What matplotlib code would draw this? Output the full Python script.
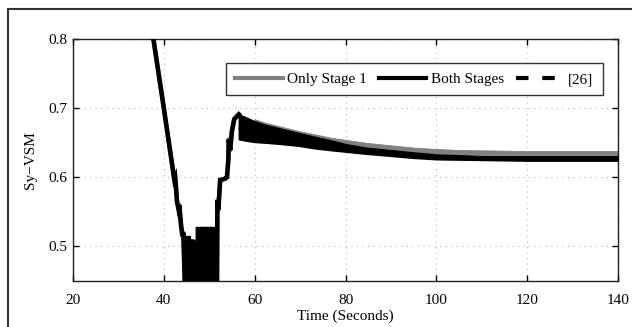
import numpy as np
import matplotlib
matplotlib.use("Agg")
import matplotlib.pyplot as plt
from matplotlib.lines import Line2D
from matplotlib.patches import Rectangle

plt.rcParams['font.family'] = ['Liberation Serif', 'DejaVu Serif']

# --- transient of "Both Stages" ---
both_t = [37.7, 40.0, 41.9, 42.3, 42.5, 42.9, 43.2, 43.4, 43.8, 44.1, 44.3, 44.6, 44.7,
          45.0, 45.0, 45.5, 45.5, 45.8, 45.8, 46.3, 46.3, 46.6, 46.6, 47.1, 47.1,
          47.5, 47.5, 47.8, 47.8, 48.3, 48.3, 48.6, 48.6, 49.0, 49.0, 49.3, 49.3,
          49.8, 49.8, 50.1, 50.1, 50.6, 50.6, 50.9, 50.9, 51.7, 51.8, 52.0, 52.4,
          53.5, 53.9, 54.2, 54.3, 54.6, 55.0, 55.5, 56.5]
both_y = [0.800, 0.700, 0.615, 0.597, 0.600, 0.565, 0.555, 0.560, 0.530, 0.515, 0.520, 0.450, 0.440,
          0.440, 0.512, 0.512, 0.440, 0.440, 0.507, 0.507, 0.440, 0.440, 0.505, 0.505, 0.440,
          0.440, 0.525, 0.525, 0.440, 0.440, 0.525, 0.525, 0.440, 0.440, 0.525, 0.525, 0.440,
          0.440, 0.525, 0.525, 0.440, 0.440, 0.525, 0.525, 0.440, 0.440, 0.567, 0.553, 0.596,
          0.598, 0.600, 0.625, 0.655, 0.639, 0.667, 0.684, 0.691]

# oscillating band after the peak (upper / lower envelope)
band_t = [56.5, 58, 60, 62.3, 66, 69.7, 73, 77, 80, 84.4, 88.8, 95, 100, 110, 120, 130, 140]
both_hi = [0.691, 0.687, 0.681, 0.676, 0.670, 0.664, 0.659, 0.653, 0.648, 0.643, 0.640, 0.636,
           0.633, 0.631, 0.631, 0.631, 0.631]
both_lo = [0.655, 0.653, 0.651, 0.650, 0.648, 0.6455, 0.642, 0.639, 0.637, 0.634, 0.6316, 0.628,
           0.626, 0.625, 0.624, 0.624, 0.624]

stage1_t = [60, 62.3, 69.7, 77, 84.4, 88.8, 95, 100, 105, 110, 120, 130, 140]
stage1_hi = [0.684, 0.679, 0.667, 0.657, 0.650, 0.647, 0.643, 0.641, 0.6395, 0.639, 0.638, 0.638, 0.638]
stage1_lo = [0.654, 0.653, 0.649, 0.645, 0.640, 0.638, 0.636, 0.634, 0.6335, 0.633, 0.633, 0.633, 0.633]

ref26_t = [56.5, 70, 80, 90, 100, 120, 140]
ref26_y = [0.672, 0.655, 0.643, 0.636, 0.629, 0.627, 0.627]

fig = plt.figure(figsize=(6.32, 3.27), dpi=100)
ax = fig.add_axes([73 / 632, 1 - 281 / 327, 545 / 632, 242 / 327])

# Only Stage 1 (gray) - hidden under black in the transient
ax.plot(both_t, both_y, color='#808080', lw=3, zorder=2)
ax.fill_between(stage1_t, stage1_lo, stage1_hi, color='#808080', lw=0.6, zorder=2)

# [26] dashed, lies under the black curve
ax.plot(ref26_t, ref26_y, color='black', lw=2.5, ls=(0, (3, 3.3)), zorder=3)

# Both stages (black)
ax.plot(both_t, both_y, color='black', lw=3.3, zorder=4, solid_joinstyle='miter')
ax.fill_between(band_t, both_lo, both_hi, color='black', lw=1.0, zorder=4)

ax.set_xlim(20, 140)
ax.set_ylim(0.45, 0.8)
ax.set_xticks([20, 40, 60, 80, 100, 120, 140])
ax.set_yticks([0.5, 0.6, 0.7, 0.8])
ax.set_yticklabels(['0.5', '0.6', '0.7', '0.8'])
ax.grid(True, color='#b8b8b8', ls=(0, (1, 4)), lw=0.8)
ax.tick_params(direction='in', length=4, width=1, top=True, right=True,
               labelsize=11, colors='black')
ax.tick_params(axis='x', pad=9)
ax.tick_params(axis='y', pad=4)
for s in ax.spines.values():
    s.set_linewidth(1.0)
    s.set_color('#222222')

ax.set_xlabel('Time (Seconds)', fontsize=11, labelpad=2)
ax.set_ylabel('Sy\u2212VSM', fontsize=11, labelpad=8)

handles = [Line2D([], [], color='#808080', lw=3),
           Line2D([], [], color='black', lw=3),
           Line2D([], [], color='black', lw=3, ls=(0, (3, 3.3)))]
leg = ax.legend(handles, ['Only Stage 1', 'Both Stages', '[26]'], ncol=3,
                loc='upper right', bbox_to_anchor=(0.972, 0.90), borderaxespad=0,
                fontsize=11, handlelength=3.1, handletextpad=0.3, columnspacing=0.8,
                fancybox=False, framealpha=1, edgecolor='#333333', borderpad=0.6)
leg.get_frame().set_linewidth(1.0)
leg.set_zorder(10)

# outer frame of the image
fig.add_artist(Rectangle((8 / 632, -0.2), 1.0, 1.2 - 9 / 327, transform=fig.transFigure,
                         fill=False, lw=1.5, edgecolor='#333333'))

fig.savefig('out.png', dpi=100)
